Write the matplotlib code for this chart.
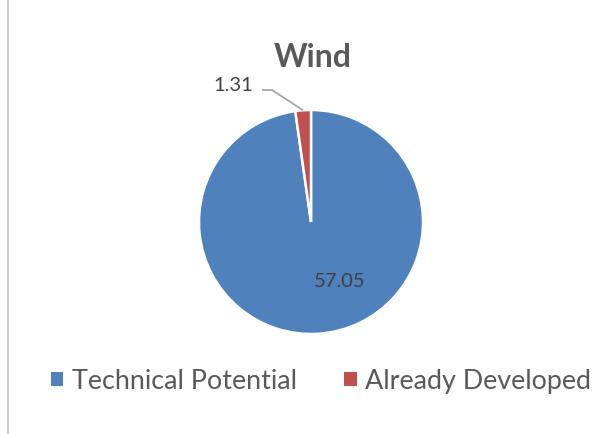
import matplotlib
matplotlib.use("Agg")
import matplotlib.pyplot as plt
from matplotlib.patches import Patch, Rectangle
import numpy as np

# Data
categories = ["Technical Potential", "Already Developed"]
values = [57.05, 1.31]
label_text = ["57.05", "1.31"]
colors = ["#4F81BD", "#C0504D"]
title = "Wind"

W, H = 613, 435
fig = plt.figure(figsize=(W / 100, H / 100), dpi=100)
fig.patch.set_facecolor("white")

# chart-area frame (runs off the right and bottom edges)
fig.add_artist(Rectangle((8 / W, -0.2), 1.2, 1.2 + (1 - 13 / H),
                         transform=fig.transFigure, fill=False,
                         edgecolor="#cfcfcf", linewidth=1.5, zorder=0))

cx, cy, r = 311, 223, 112
ax = fig.add_axes([(cx - r) / W, (H - cy - r) / H, 2 * r / W, 2 * r / H])
wedges, _ = ax.pie(values, colors=colors, startangle=90, counterclock=False,
                   radius=1.0,
                   wedgeprops=dict(edgecolor="white", linewidth=1.8))
ax.set_xlim(-1, 1)
ax.set_ylim(-1, 1)
ax.set_aspect("equal")
ax.axis("off")

font = "Lato"
label_color = "#404040"

# large slice value label
ax.text(0.254, -0.571, label_text[0], ha="center", va="baseline",
        fontsize=14.5, color=label_color, family=font)

# small slice value label with leader line
total = sum(values)
mid = np.deg2rad(90 + values[1] / total * 360 / 2)
px, py = np.cos(mid), np.sin(mid)
ly = 1.1786
ax.plot([-0.4375, -0.348, px], [ly, ly, py], color="#a6a6a6",
        linewidth=1.3, clip_on=False, solid_capstyle="butt")
ax.text(-0.518, ly, label_text[1], ha="right", va="baseline",
        fontsize=14.5, color=label_color, family=font)

# title
fig.text(313 / W, 1 - 67 / H, title, ha="center", va="baseline",
         fontsize=23, fontweight="bold", color="#595959", family=font)

# legend
handles = [Patch(facecolor=c, edgecolor="none") for c in colors]
leg = fig.legend(handles, categories, loc="center",
                 bbox_to_anchor=(321 / W, 1 - 382 / H), ncol=2,
                 frameon=False, handlelength=0.46, handleheight=0.46,
                 handletextpad=0.3, columnspacing=1.78, borderpad=0,
                 prop=dict(family=font, size=19.4))
for t in leg.get_texts():
    t.set_color("#595959")

fig.savefig("out.png", dpi=100, facecolor="white")
